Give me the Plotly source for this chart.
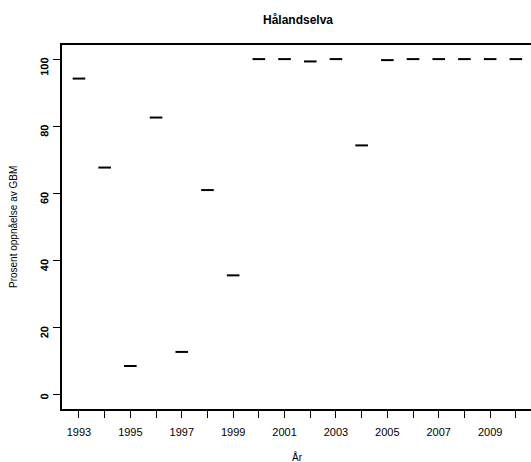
import plotly.graph_objects as go

years = list(range(1993, 2011))
values = [94.2, 67.7, 8.6, 82.6, 12.8, 61.0, 35.6, 100.0, 100.0, 99.3,
          100.0, 74.3, 99.7, 100.0, 100.0, 100.0, 100.0, 100.0]
x_ticks = list(range(1993, 2011))
x_labels = [str(y) if (y - 1993) % 2 == 0 else "" for y in x_ticks]
y_ticks = [0, 20, 40, 60, 80, 100]

title_text = "Hålandselva"
x_title = "År"
y_title = "Prosent oppnåelse av GBM"

FONT = "Liberation Sans, Arial, sans-serif"

W, H = 531, 462
L, R, T, B = 62, 0, 45, 53
PW, PH = W - L - R, H - T - B


def px_x(px):
    return (px - L) / PW


def px_y(py):
    return (H - B - py) / PH


fig = go.Figure()
fig.add_trace(go.Scatter(
    x=years, y=values, mode="markers",
    marker=dict(symbol="line-ew", size=9, line=dict(color="black", width=2)),
    showlegend=False, hoverinfo="x+y",
))

fig.update_layout(
    width=W, height=H,
    margin=dict(l=L, r=R, t=T, b=B, autoexpand=False),
    plot_bgcolor="white", paper_bgcolor="white",
    font=dict(family=FONT, color="black", size=11),
    xaxis=dict(
        range=[1992.34, 2010.59],
        tickmode="array", tickvals=x_ticks, ticktext=x_labels,
        ticks="outside", ticklen=7, tickwidth=1, tickcolor="black",
        showline=True, linecolor="black", linewidth=2, mirror=True,
        showgrid=False, zeroline=False, automargin=False,
        tickfont=dict(size=11), ticklabelstandoff=5,
    ),
    yaxis=dict(
        range=[-4.2, 104.2],
        tickmode="array", tickvals=y_ticks,
        ticktext=["<b>%d</b>" % v for v in y_ticks],
        ticks="outside", ticklen=7, tickwidth=1, tickcolor="black",
        showline=True, linecolor="black", linewidth=2, mirror=False,
        showgrid=False, zeroline=False, automargin=False,
        tickangle=-89.9, tickfont=dict(size=11), ticklabelstandoff=8,
    ),
    annotations=[
        dict(text="<b>" + title_text + "</b>", x=px_x(297.5), y=px_y(19.5),
             xref="paper", yref="paper", xanchor="center", yanchor="middle",
             showarrow=False, font=dict(size=12)),
        dict(text=x_title, x=px_x(297.5), y=px_y(457),
             xref="paper", yref="paper", xanchor="center", yanchor="middle",
             showarrow=False, font=dict(size=10)),
        dict(text=y_title, x=px_x(13), y=px_y(227),
             xref="paper", yref="paper", xanchor="center", yanchor="middle",
             textangle=-90, showarrow=False, font=dict(size=10)),
    ],
)

fig.write_html("out.html",
               config={"displayModeBar": False},
               post_script="document.body.style.margin='0';document.body.style.overflow='hidden';")
